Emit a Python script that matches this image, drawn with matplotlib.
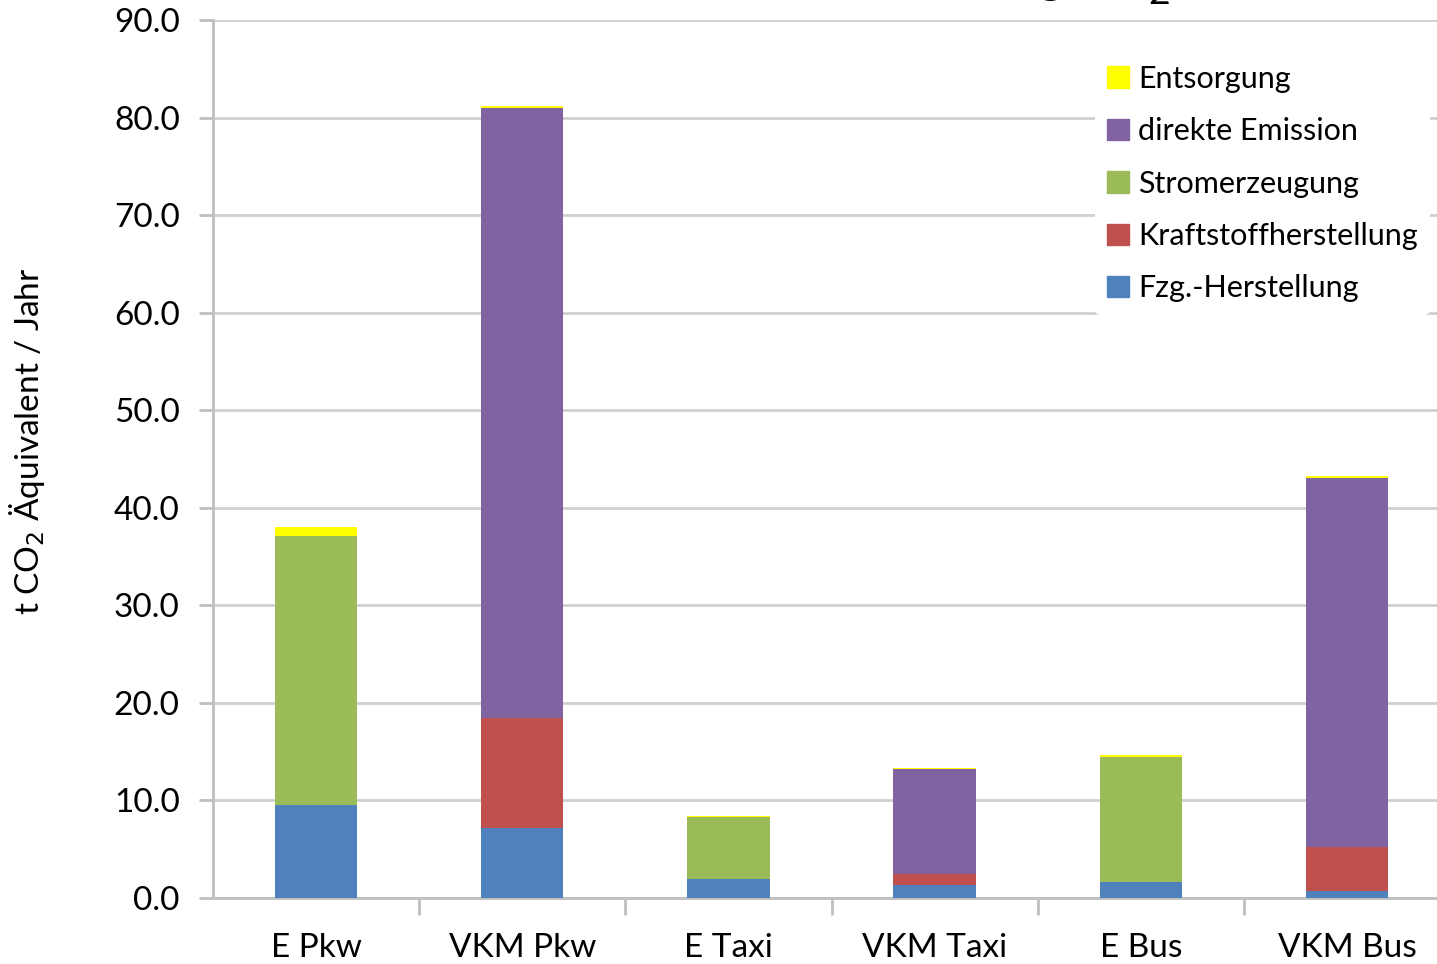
import numpy as np
import matplotlib.pyplot as plt
from matplotlib.patches import Patch

plt.rcParams['font.family'] = ['Lato', 'DejaVu Sans']

categories = ['E Pkw', 'VKM Pkw', 'E Taxi', 'VKM Taxi', 'E Bus', 'VKM Bus']
fzg = [9.5, 7.2, 1.9, 1.3, 1.6, 0.7]
kraftstoff = [0.0, 11.2, 0.0, 1.2, 0.0, 4.5]
strom = [27.6, 0.0, 6.4, 0.0, 12.9, 0.0]
direkt = [0.0, 62.6, 0.0, 10.7, 0.0, 37.9]
entsorgung = [0.9, 0.2, 0.15, 0.15, 0.15, 0.15]

series = [
    ('Fzg.-Herstellung', fzg, '#4F81BD'),
    ('Kraftstoffherstellung', kraftstoff, '#C0504D'),
    ('Stromerzeugung', strom, '#9BBB59'),
    ('direkte Emission', direkt, '#8064A2'),
    ('Entsorgung', entsorgung, '#FFFF00'),
]

fig = plt.figure(figsize=(14.37, 9.64), dpi=100)
ax = fig.add_axes([213 / 1437, 66 / 964, 1237 / 1437, 878 / 964])

x = np.arange(len(categories))
bottom = np.zeros(len(categories))
for name, vals, col in series:
    ax.bar(x, vals, 0.4, bottom=bottom, color=col, zorder=3)
    bottom += np.array(vals)

ax.set_xlim(-0.5, 5.5)
ax.set_ylim(0, 90)
ax.set_yticks(np.arange(0, 91, 10))
ax.set_yticklabels([f'{v:.1f}' for v in np.arange(0, 91, 10)], fontsize=24)
ax.set_xticks(x)
ax.set_xticklabels(categories, fontsize=24)
ax.set_xticks(np.arange(0.5, 5.5, 1), minor=True)
ax.tick_params(axis='x', which='major', length=0, pad=25)
ax.tick_params(axis='x', which='minor', length=12, width=2, color='#bfbfbf')
ax.tick_params(axis='y', length=10, width=2, color='#bfbfbf', pad=14)
ax.yaxis.grid(True, color='#d0d0d0', linewidth=2, zorder=0)
for s in ['top', 'right']:
    ax.spines[s].set_visible(False)
for s in ['left', 'bottom']:
    ax.spines[s].set_color('#bfbfbf')
    ax.spines[s].set_linewidth(2)

ax.set_ylabel('t CO$_2$ Äquivalent / Jahr', fontsize=24)
ax.yaxis.set_label_coords(-0.134, 0.52)

handles = [Patch(color=col, label=name) for name, vals, col in series][::-1]
leg = ax.legend(handles=handles, loc='upper left', bbox_to_anchor=(0.713, 0.963),
                fontsize=22, frameon=True, edgecolor='none', framealpha=1,
                handlelength=0.7, handleheight=0.7, handletextpad=0.3,
                labelspacing=0.8, borderaxespad=0)

# title cut off at the top of the picture: only descenders show
fig.text(1145 / 1437, 1.0 + 7 / 964, 'Jährliche Belastung CO', fontsize=34,
         ha='right', va='baseline')
fig.text(1148 / 1437, 1.0 - 4 / 964, '2', fontsize=27, ha='left', va='baseline')

fig.savefig('out.png', dpi=100)
